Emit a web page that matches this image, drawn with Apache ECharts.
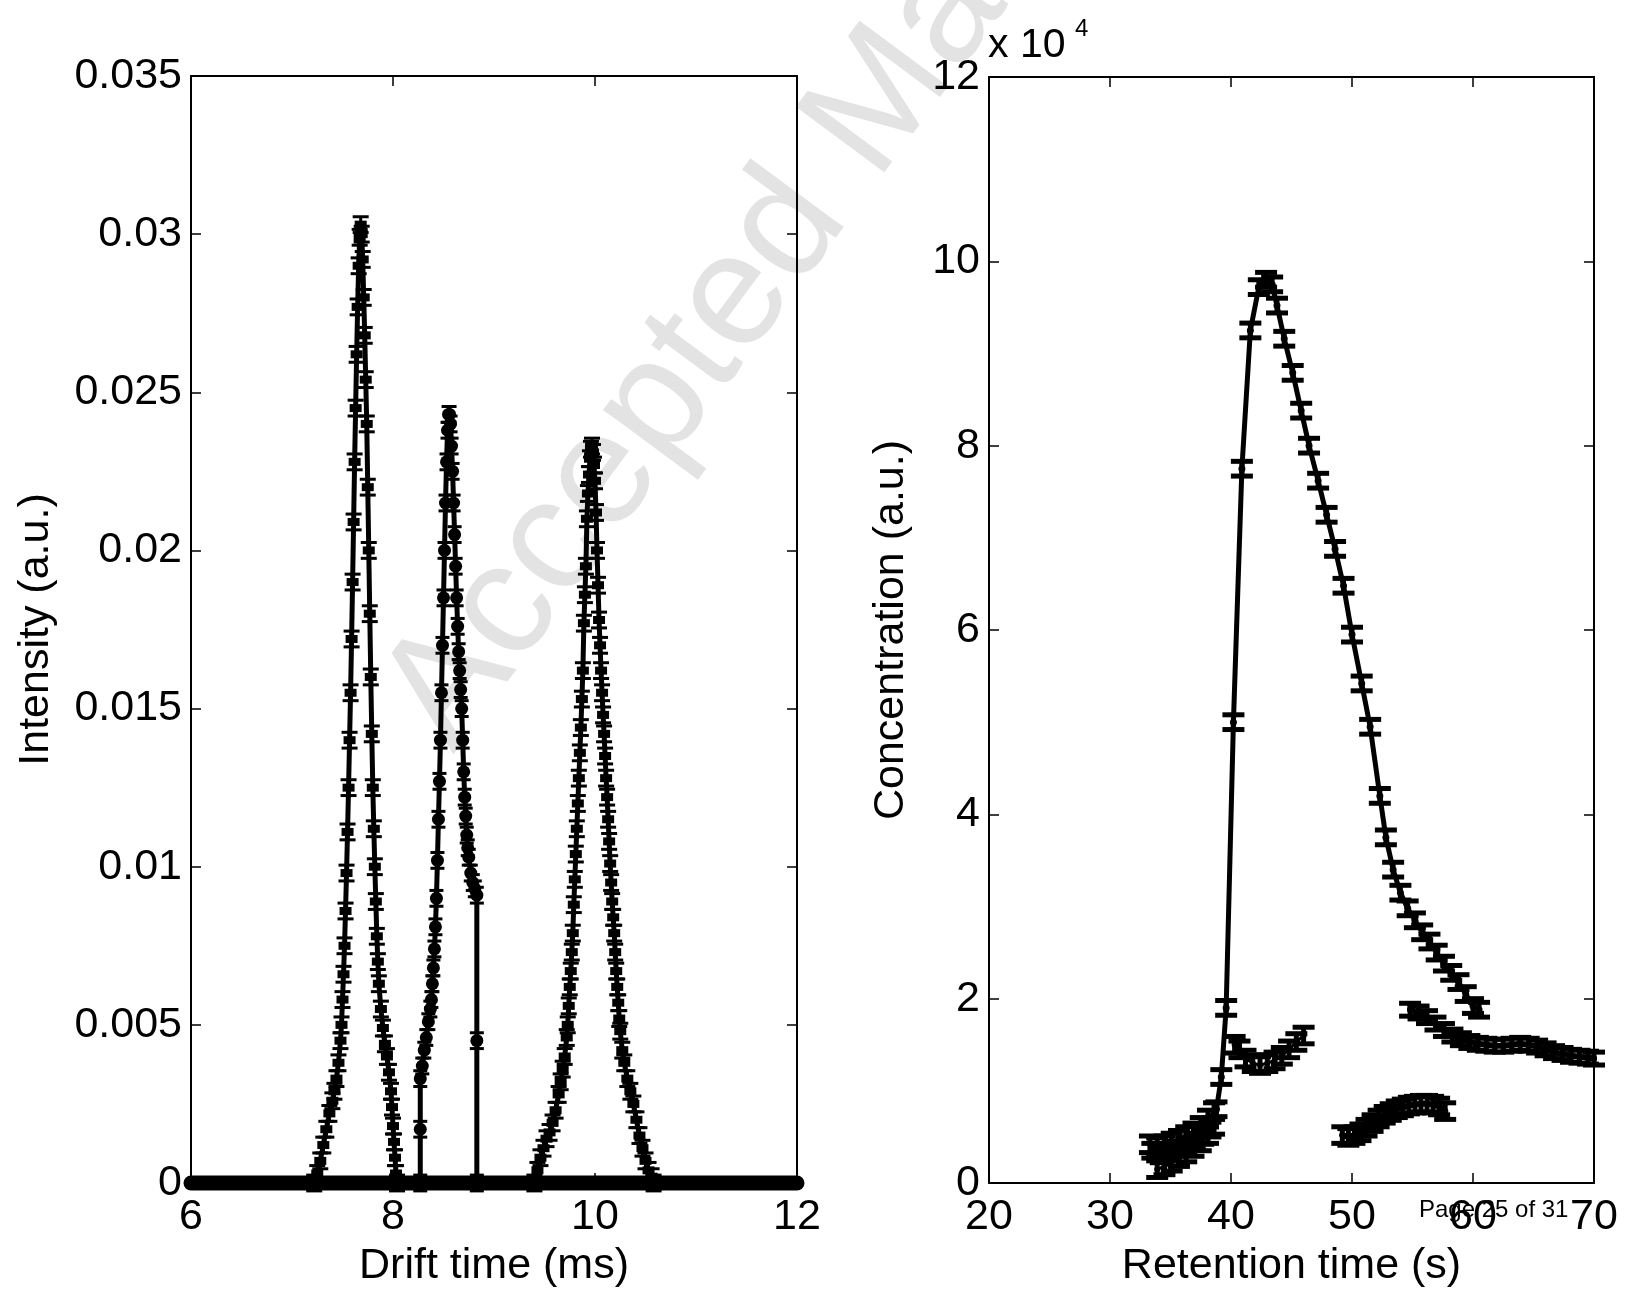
<!DOCTYPE html>
<html><head><meta charset="utf-8">
<script src="https://cdn.jsdelivr.net/npm/echarts@6/dist/echarts.min.js"></script>
<style>html,body{margin:0;padding:0;background:#fff}#c{width:1628px;height:1298px}</style>
</head><body><div id="c"></div>
<script>
// ---------- Left panel: drift time spectra (ms, a.u.) ----------
const driftBaseline = [[6, 0], [12, 0]];
const driftPeak1 = [[7.22,0],[7.25,0.0003],[7.28,0.0007],[7.31,0.0012],[7.34,0.0017],[7.37,0.0022],[7.40,0.0026],[7.42,0.0029],[7.44,0.0033],[7.46,0.0038],[7.48,0.0045],[7.49,0.0050],[7.50,0.0058],[7.51,0.0066],[7.52,0.0075],[7.53,0.0086],[7.54,0.0098],[7.55,0.0111],[7.56,0.0125],[7.57,0.0140],[7.58,0.0155],[7.59,0.0172],[7.60,0.0190],[7.61,0.0209],[7.62,0.0228],[7.63,0.0245],[7.64,0.0262],[7.65,0.0277],[7.66,0.0290],[7.67,0.0299],[7.68,0.0303],[7.69,0.0300],[7.70,0.0292],[7.71,0.0280],[7.72,0.0268],[7.73,0.0254],[7.74,0.0240],[7.75,0.0220],[7.76,0.0200],[7.77,0.0180],[7.78,0.0160],[7.79,0.0142],[7.80,0.0125],[7.81,0.0112],[7.82,0.0100],[7.83,0.0089],[7.84,0.0078],[7.85,0.0070],[7.86,0.0063],[7.88,0.0055],[7.90,0.0049],[7.92,0.0044],[7.94,0.0040],[7.96,0.0035],[7.98,0.0029],[7.99,0.0024],[8.00,0.0018],[8.01,0.0013],[8.02,0.0008],[8.03,0.0003],[8.04,0]];
const driftPeak2 = [[8.27,0],[8.27,0.0017],[8.27,0.0033],[8.29,0.0037],[8.31,0.0042],[8.33,0.0046],[8.35,0.0051],[8.37,0.0055],[8.38,0.0058],[8.39,0.0063],[8.40,0.0068],[8.41,0.0074],[8.42,0.0081],[8.43,0.0090],[8.44,0.0102],[8.45,0.0115],[8.46,0.0127],[8.47,0.0140],[8.48,0.0155],[8.49,0.0170],[8.50,0.0185],[8.51,0.0200],[8.52,0.0215],[8.53,0.0228],[8.54,0.0238],[8.55,0.0243],[8.56,0.0243],[8.57,0.0240],[8.58,0.0233],[8.59,0.0225],[8.60,0.0215],[8.61,0.0205],[8.62,0.0195],[8.63,0.0185],[8.64,0.0176],[8.65,0.0168],[8.66,0.0162],[8.67,0.0156],[8.68,0.0150],[8.69,0.0140],[8.70,0.0130],[8.71,0.0122],[8.72,0.0116],[8.73,0.0110],[8.74,0.0106],[8.75,0.0103],[8.77,0.0098],[8.79,0.0095],[8.81,0.0093],[8.83,0.0091],[8.83,0.0045],[8.83,0]];
const driftPeak3 = [[9.40,0],[9.43,0.0004],[9.46,0.0008],[9.49,0.0011],[9.52,0.0014],[9.55,0.0016],[9.58,0.0019],[9.61,0.0023],[9.64,0.0028],[9.66,0.0032],[9.68,0.0036],[9.70,0.0040],[9.72,0.0046],[9.73,0.0050],[9.74,0.0056],[9.75,0.0062],[9.76,0.0067],[9.77,0.0073],[9.78,0.0079],[9.79,0.0088],[9.80,0.0096],[9.81,0.0104],[9.82,0.0112],[9.83,0.0120],[9.84,0.0128],[9.85,0.0136],[9.86,0.0144],[9.87,0.0153],[9.88,0.0162],[9.89,0.0177],[9.90,0.0186],[9.91,0.0195],[9.92,0.0210],[9.93,0.0218],[9.94,0.0224],[9.95,0.0229],[9.96,0.0232],[9.97,0.0233],[9.98,0.0231],[9.99,0.0227],[10.00,0.0222],[10.01,0.0212],[10.02,0.0200],[10.03,0.0189],[10.04,0.0178],[10.05,0.0170],[10.06,0.0162],[10.07,0.0155],[10.08,0.0148],[10.09,0.0142],[10.10,0.0135],[10.11,0.0128],[10.12,0.0122],[10.13,0.0115],[10.14,0.0108],[10.15,0.0101],[10.16,0.0095],[10.17,0.0089],[10.18,0.0084],[10.19,0.0079],[10.20,0.0073],[10.21,0.0067],[10.22,0.0062],[10.23,0.0057],[10.24,0.0052],[10.25,0.0048],[10.27,0.0042],[10.29,0.0038],[10.32,0.0033],[10.35,0.0029],[10.38,0.0025],[10.41,0.0020],[10.44,0.0015],[10.47,0.0011],[10.50,0.0007],[10.53,0.0004],[10.56,0.0002],[10.58,0]];
const driftErr = 0.00025;
const driftTicks = [6, 8, 10, 12];

// ---------- Right panel: chromatogram (s, concentration x 1e4) ----------
const rtMain = [[33.5,0.35],[34.2,0.30],[34.9,0.33],[35.6,0.37],[36.3,0.41],[37.0,0.45],[37.7,0.50],[38.3,0.58],[38.8,0.80],[39.2,1.15],[39.6,1.90],[40.2,5.00],[40.9,7.75],[41.6,9.25],[42.3,9.72],[42.9,9.80],[43.4,9.75],[43.8,9.52],[44.4,9.16],[45.1,8.79],[45.8,8.38],[46.45,8.00],[47.2,7.62],[47.9,7.25],[48.6,6.88],[49.3,6.48],[50.0,5.95],[50.8,5.42],[51.5,4.95],[52.3,4.20],[52.8,3.75],[53.4,3.40],[54.0,3.15],[54.6,2.98],[55.2,2.85],[55.8,2.72],[56.4,2.62],[57.0,2.50],[57.6,2.38],[58.2,2.28],[58.8,2.18],[59.4,2.05],[60.0,1.92],[60.5,1.88]];
const rtLowA = [[40.3,1.50],[40.7,1.45],[41.2,1.35],[41.8,1.30],[42.4,1.28],[43.0,1.30],[43.6,1.33],[44.2,1.38],[44.8,1.45],[45.4,1.53],[46.0,1.60]];
const rtLowB1 = [[33.3,0.42],[33.9,0.40],[34.5,0.42],[35.1,0.45],[35.7,0.48],[36.3,0.52],[36.9,0.56],[37.5,0.62],[38.1,0.70],[38.6,0.78]];
const rtLowB2 = [[33.9,0.15],[34.5,0.18],[35.1,0.22],[35.7,0.27],[36.3,0.32],[36.9,0.38],[37.5,0.44],[38.1,0.52],[38.6,0.62]];
const rtLowC = [[49.2,0.52],[49.7,0.50],[50.2,0.52],[50.7,0.55],[51.2,0.60],[51.7,0.65],[52.2,0.70],[52.7,0.74],[53.2,0.77],[53.7,0.80],[54.2,0.82],[54.7,0.84],[55.2,0.85],[55.7,0.86],[56.2,0.86],[56.7,0.85],[57.2,0.83],[57.7,0.78]];
const rtTailD = [[54.8,1.88],[55.5,1.85],[56.2,1.80],[56.9,1.73],[57.6,1.66],[58.3,1.60],[59.0,1.56],[59.7,1.53],[60.4,1.51],[61.1,1.50],[61.8,1.49],[62.5,1.49],[63.2,1.50],[63.9,1.51],[64.6,1.50],[65.3,1.48],[66.0,1.45],[66.7,1.42],[67.4,1.40],[68.1,1.38],[68.8,1.37],[69.5,1.36],[70.0,1.35]];
const rtMainErr = 0.08;
const rtLowErr = 0.09;
const rtTicks = [20, 30, 40, 50, 60, 70];
const concTicks = [0, 2, 4, 6, 8, 10, 12];

const FONT = "'Liberation Sans', Arial, Helvetica, sans-serif";
const chart = echarts.init(document.getElementById('c'));

function errRender(capW, lw) {
  return function (params, api) {
    const x = api.value(0), y = api.value(1), e = api.value(2);
    const lo = api.coord([x, y - e]);
    const hi = api.coord([x, y + e]);
    const hw = capW / 2;
    const style = { stroke: '#000', lineWidth: lw };
    return { type: 'group', children: [
      { type: 'line', shape: { x1: lo[0], y1: lo[1], x2: hi[0], y2: hi[1] }, style: style },
      { type: 'line', shape: { x1: lo[0] - hw, y1: lo[1], x2: lo[0] + hw, y2: lo[1] }, style: style },
      { type: 'line', shape: { x1: hi[0] - hw, y1: hi[1], x2: hi[0] + hw, y2: hi[1] }, style: style }
    ] };
  };
}
function withErr(arr, e) { return arr.map(p => [p[0], p[1], e]); }

function xAx(grid, min, max, interval, name, top) {
  return {
    type: 'value', gridIndex: grid, min: min, max: max, interval: interval,
    position: top ? 'top' : 'bottom',
    name: top ? '' : name, nameLocation: 'middle', nameGap: 62, nameMoveOverlap: false,
    nameTextStyle: { fontSize: 43, color: '#000', fontFamily: FONT },
    axisLine: { show: true, onZero: false, lineStyle: { color: '#000', width: 2 } },
    axisTick: { show: true, inside: true, length: 10, lineStyle: { color: '#000', width: 1.5 } },
    axisLabel: { show: !top, fontSize: 43, color: '#000', fontFamily: FONT, margin: 13 },
    splitLine: { show: false }
  };
}
function yAx(grid, min, max, interval, name, right, gap, fmt) {
  return {
    type: 'value', gridIndex: grid, min: min, max: max, interval: interval,
    position: right ? 'right' : 'left',
    name: right ? '' : name, nameLocation: 'middle', nameRotate: 90, nameGap: gap, nameMoveOverlap: false,
    nameTextStyle: { fontSize: 43, color: '#000', fontFamily: FONT },
    axisLine: { show: true, onZero: false, lineStyle: { color: '#000', width: 2 } },
    axisTick: { show: true, inside: true, length: 10, lineStyle: { color: '#000', width: 1.5 } },
    axisLabel: { show: !right, fontSize: 43, color: '#000', fontFamily: FONT, margin: 9, formatter: fmt },
    splitLine: { show: false }
  };
}
const driftFmt = v => v === 0 ? '0' : (+v.toFixed(3)).toString();
const concFmt = v => String(Math.round(v));

function lineSer(xi, yi, data, w, sym, size) {
  return { type: 'line', xAxisIndex: xi, yAxisIndex: yi, data: data, clip: false, z: 3,
    lineStyle: { color: '#000', width: w, cap: 'round', join: 'round' },
    itemStyle: { color: '#000' }, symbol: sym, symbolSize: size, showSymbol: sym !== 'none',
    animation: false, silent: true };
}
function errSer(xi, yi, data, cap, lw) {
  return { type: 'custom', xAxisIndex: xi, yAxisIndex: yi, data: data, z: 4,
    renderItem: errRender(cap, lw), animation: false, silent: true };
}

const option = {
  backgroundColor: '#fff',
  animation: false,
  grid: [
    { left: 191, top: 76, width: 606, height: 1107 },
    { left: 989, top: 77, width: 605, height: 1106 }
  ],
  xAxis: [
    xAx(0, 6, 12, 2, 'Drift time (ms)', false),
    xAx(0, 6, 12, 2, '', true),
    xAx(1, 20, 70, 10, 'Retention time (s)', false),
    xAx(1, 20, 70, 10, '', true)
  ],
  yAxis: [
    yAx(0, 0, 0.035, 0.005, 'Intensity (a.u.)', false, 133, driftFmt),
    yAx(0, 0, 0.035, 0.005, '', true, 0, driftFmt),
    yAx(1, 0, 12, 2, 'Concentration (a.u.)', false, 76, concFmt),
    yAx(1, 0, 12, 2, '', true, 0, concFmt)
  ],
  graphic: [
    { type: 'text', z: -10, x: 482, y: 776, rotation: 53.5 * Math.PI / 180,
      style: { text: 'Accepted Manuscript', fontSize: 160, fontFamily: FONT, fill: '#e3e3e3', verticalAlign: 'bottom', align: 'left' } },
    { type: 'text', z: 10, x: 988, y: 66,
      style: { text: 'x 10', fontSize: 41, fontFamily: FONT, fill: '#000', verticalAlign: 'bottom' } },
    { type: 'text', z: 10, x: 1075, y: 17,
      style: { text: '4', fontSize: 24, fontFamily: FONT, fill: '#000', verticalAlign: 'top' } },
    { type: 'text', z: 10, x: 1419, y: 1222,
      style: { text: 'Page 25 of 31', fontSize: 24, fontFamily: FONT, fill: '#000', verticalAlign: 'bottom' } }
  ],
  series: [
    lineSer(0, 0, driftBaseline, 15, 'none', 0),
    lineSer(0, 0, driftPeak1, 5, 'rect', [12, 8]),
    errSer(0, 0, withErr(driftPeak1, driftErr), 16, 3),
    lineSer(0, 0, driftPeak2, 5, 'circle', 13),
    errSer(0, 0, withErr(driftPeak2, driftErr), 14, 3),
    lineSer(0, 0, driftPeak3, 5, 'rect', [12, 8]),
    errSer(0, 0, withErr(driftPeak3, driftErr), 16, 3),

    lineSer(2, 2, rtMain, 5, 'circle', 7),
    errSer(2, 2, withErr(rtMain, rtMainErr), 22, 5),
    lineSer(2, 2, rtLowA, 3, 'circle', 6),
    errSer(2, 2, withErr(rtLowA, rtLowErr), 22, 5),
    lineSer(2, 2, rtLowB1, 3, 'circle', 6),
    errSer(2, 2, withErr(rtLowB1, rtLowErr), 22, 5),
    lineSer(2, 2, rtLowB2, 3, 'circle', 6),
    errSer(2, 2, withErr(rtLowB2, rtLowErr), 22, 5),
    lineSer(2, 2, rtLowC, 6, 'circle', 6),
    errSer(2, 2, withErr(rtLowC, rtLowErr), 22, 5),
    lineSer(2, 2, rtTailD, 6, 'circle', 6),
    errSer(2, 2, withErr(rtTailD, 0.07), 22, 5)
  ]
};
chart.setOption(option);
</script>
</body></html>
